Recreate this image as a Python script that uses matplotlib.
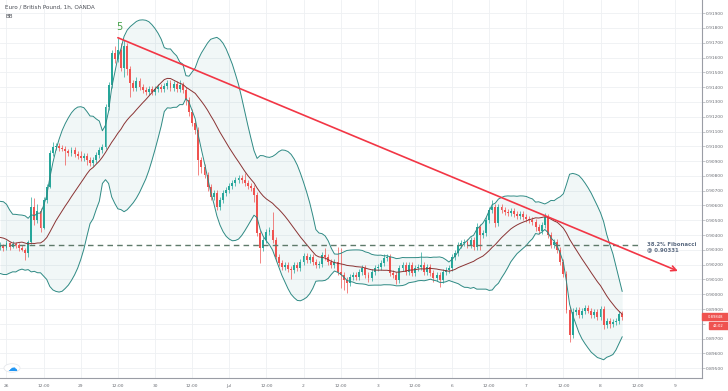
import matplotlib
matplotlib.use("Agg")
import matplotlib.pyplot as plt
import matplotlib.transforms as mtransforms
from matplotlib.patches import Rectangle, Circle
import numpy as np
import pandas as pd

# hourly EUR/GBP candles, hour 0 = Jun 26 00:00 (weekend hours skipped)
first_hour = -21
first_open = 0.9035
closes = [
  0.9040, 0.9052, 0.9060, 0.9055, 0.9035, 0.9022, 0.9025, 0.9040, 0.9048, 0.9050,
  0.9053, 0.9049, 0.9044, 0.9036, 0.9028, 0.9022, 0.9020, 0.9024, 0.9032, 0.90330,
  0.90310, 0.90345, 0.90320, 0.90340, 0.90335, 0.90310, 0.90300, 0.90280, 0.90350, 0.90590,
  0.90500, 0.90560, 0.90450, 0.90637, 0.90725, 0.90955, 0.90997, 0.91005, 0.90990, 0.90985,
  0.90965, 0.90955, 0.90975, 0.90950, 0.90935, 0.90920, 0.90935, 0.90905, 0.90890, 0.90910,
  0.90940, 0.90975, 0.90995, 0.91266, 0.91414, 0.91630, 0.91590, 0.91650, 0.91530, 0.91680,
  0.91520, 0.91430, 0.91394, 0.91440, 0.91400, 0.91380, 0.91365, 0.91385, 0.91370, 0.91385,
  0.91400, 0.91385, 0.91410, 0.91425, 0.91395, 0.91420, 0.91390, 0.91415, 0.91380, 0.91311,
  0.91234, 0.91160, 0.91110, 0.90908, 0.90860, 0.90806, 0.90725, 0.90657, 0.90684, 0.90590,
  0.90637, 0.90684, 0.90705, 0.90732, 0.90752, 0.90772, 0.90786, 0.90772, 0.90752, 0.90732,
  0.90718, 0.90671, 0.90414, 0.90313, 0.90367, 0.90421, 0.90434, 0.90367, 0.90252, 0.90211,
  0.90184, 0.90198, 0.90170, 0.90165, 0.90200, 0.90180, 0.90220, 0.90260, 0.90230, 0.90250,
  0.90220, 0.90200, 0.90205, 0.90265, 0.90250, 0.90220, 0.90198, 0.90218, 0.90151, 0.90130,
  0.90097, 0.90076, 0.90117, 0.90130, 0.90117, 0.90151, 0.90178, 0.90130, 0.90110, 0.90151,
  0.90178, 0.90184, 0.90211, 0.90245, 0.90252, 0.90144, 0.90130, 0.90097, 0.90178, 0.90198,
  0.90151, 0.90198, 0.90144, 0.90178, 0.90185, 0.90198, 0.90151, 0.90185, 0.90144, 0.90110,
  0.90130, 0.90097, 0.90151, 0.90164, 0.90178, 0.90252, 0.90279, 0.90333, 0.90347, 0.90354,
  0.90333, 0.90367, 0.90320, 0.90455, 0.90401, 0.90414, 0.90502, 0.90570, 0.90590, 0.90482,
  0.90590, 0.90570, 0.90556, 0.90549, 0.90563, 0.90542, 0.90529, 0.90542, 0.90522, 0.90508,
  0.90500, 0.90491, 0.90457, 0.90430, 0.90470, 0.90520, 0.90400, 0.90333, 0.90356, 0.90300,
  0.90220, 0.90140, 0.89894, 0.89725, 0.89880, 0.89894, 0.89860, 0.89885, 0.89907, 0.89890,
  0.89860, 0.89880, 0.89847, 0.89900, 0.89793, 0.89820, 0.89800, 0.89812, 0.89820, 0.89865, 0.89848,
]
# wick lengths above / below the body, in pips
wick_up = [
  2, 3, 2, 2, 2, 2, 2, 2, 2, 2,
  2, 2, 2, 2, 2, 2, 2, 2, 2, 2,
  1, 2, 1, 2, 1, 1, 2, 1, 2, 7,
  6, 5, 2, 2, 2, 2, 3, 2, 2, 2,
  2, 2, 2, 2, 2, 3, 2, 2, 2, 2,
  2, 2, 2, 2, 2, 2, 5, 8, 5, 4,
  2, 2, 2, 3, 2, 2, 2, 2, 2, 2,
  2, 2, 2, 2, 2, 2, 2, 3, 2, 2,
  2, 2, 2, 2, 2, 2, 2, 2, 2, 2,
  2, 2, 2, 2, 2, 2, 2, 2, 5, 2,
  2, 2, 2, 2, 2, 2, 2, 12, 2, 2,
  2, 2, 2, 2, 2, 2, 2, 2, 2, 2,
  2, 2, 2, 2, 5, 2, 2, 2, 10, 16,
  2, 2, 2, 2, 2, 2, 2, 2, 2, 2,
  2, 2, 2, 3, 2, 2, 2, 2, 2, 2,
  2, 2, 2, 2, 2, 9, 2, 2, 2, 2,
  2, 2, 2, 2, 2, 2, 2, 2, 2, 2,
  2, 2, 2, 3, 2, 2, 2, 2, 5, 2,
  2, 2, 2, 2, 2, 2, 2, 2, 2, 2,
  2, 2, 2, 2, 2, 3, 2, 2, 2, 2,
  2, 2, 2, 2, 3, 2, 2, 2, 2, 2,
  2, 2, 2, 2, 2, 2, 2, 2, 2, 2, 2,
]
wick_dn = [
  2, 2, 2, 2, 3, 2, 2, 2, 2, 2,
  2, 2, 2, 2, 2, 2, 2, 2, 2, 2,
  2, 1, 2, 1, 2, 2, 1, 5, 3, 1,
  3, 2, 3, 1, 2, 1, 2, 2, 2, 2,
  9, 2, 2, 2, 2, 2, 2, 3, 2, 2,
  2, 2, 2, 1, 2, 2, 3, 2, 2, 6,
  4, 10, 2, 2, 2, 2, 2, 2, 2, 2,
  2, 2, 2, 2, 2, 2, 2, 2, 2, 3,
  3, 2, 3, 10, 4, 2, 3, 2, 2, 2,
  2, 2, 2, 2, 2, 2, 2, 2, 2, 2,
  2, 5, 2, 10, 2, 2, 2, 2, 3, 2,
  2, 2, 2, 6, 2, 2, 2, 2, 2, 2,
  2, 2, 2, 2, 2, 2, 2, 2, 2, 9,
  7, 7, 2, 2, 2, 2, 2, 2, 3, 2,
  2, 2, 2, 2, 2, 2, 2, 3, 2, 2,
  2, 2, 2, 2, 2, 2, 2, 2, 2, 3,
  2, 5, 2, 2, 2, 2, 2, 2, 2, 2,
  2, 2, 2, 2, 10, 2, 2, 2, 2, 3,
  2, 2, 2, 2, 2, 2, 2, 2, 2, 2,
  2, 2, 3, 2, 2, 2, 2, 2, 2, 2,
  2, 2, 2, 5, 2, 2, 2, 2, 2, 2,
  2, 2, 2, 2, 3, 2, 3, 2, 2, 2, 2,
]

tick_hours = [0, 12, 24, 36, 48, 60, 72, 84, 96, 108, 120, 132, 144, 156, 168, 180, 192, 204, 216]
tick_labels = ["26", "12:00", "29", "12:00", "30", "12:00", "Jul", "12:00", "2", "12:00",
               "3", "12:00", "6", "12:00", "7", "12:00", "8", "12:00", "9"]
price_ticks = [0.895, 0.896, 0.897, 0.898, 0.899, 0.900, 0.901, 0.902, 0.903, 0.904, 0.905,
               0.906, 0.907, 0.908, 0.909, 0.910, 0.911, 0.912, 0.913, 0.914, 0.915, 0.916,
               0.917, 0.918, 0.919]
fib_level = 0.90331
fib_text = "38.2% Fibonacci\n@ 0.90331"
trend_start = (36.0, 0.91734)
trend_end = (217.0, 0.90157)
wave_label = "5"
last_price = 0.89848
countdown = "44:02"

GREEN = "#26a69a"
RED = "#ef5350"

fig = plt.figure(figsize=(7.28, 3.91), dpi=100)
ax = fig.add_axes([0, 13 / 391, 702 / 728, 378 / 391])
ax.set_xlim(-2.1, 224.8)
ax.set_ylim(0.89434, 0.91989)

c = np.array(closes)
o = np.r_[first_open, c[:-1]]
hrs = np.arange(first_hour, first_hour + len(c))
hi = np.maximum(o, c) + np.array(wick_up) * 1e-4
lo = np.minimum(o, c) - np.array(wick_dn) * 1e-4
cols = np.where(c >= o, GREEN, RED)

# bollinger bands 20, 2
s = pd.Series(c)
mid = s.rolling(20).mean()
sd = s.rolling(20).std(ddof=0)
upper = mid + 2 * sd
lower = mid - 2 * sd
ax.fill_between(hrs, lower, upper, color="#198787", alpha=0.06, lw=0, zorder=1)
ax.plot(hrs, upper, color="#2f8a84", lw=0.7, zorder=3)
ax.plot(hrs, lower, color="#2f8a84", lw=0.7, zorder=3)
ax.plot(hrs, mid, color="#8a3333", lw=0.7, zorder=3)

ax.vlines(hrs, lo, hi, colors=cols, lw=0.5, zorder=2)
body = np.maximum(np.abs(c - o), 0.00003)
ax.bar(hrs, body, bottom=np.minimum(o, c), width=0.62, color=cols, lw=0, zorder=2)

# fibonacci level and trend line
ax.plot([-2.1, 205], [fib_level, fib_level], color="#5e7a6a", lw=1.0,
        dashes=(4, 3), zorder=4)
ax.text(207, 0.90316, fib_text, color="#5d6c82", fontsize=3.9, fontweight="bold",
        va="center", ha="left", linespacing=1.05, zorder=5)
ax.annotate("", xy=trend_end, xytext=trend_start, zorder=5,
            arrowprops=dict(arrowstyle="->", color="#f23645", lw=1.2,
                            mutation_scale=9, shrinkA=0, shrinkB=0))
ax.text(36.6, 0.91806, wave_label, color="#43a047", fontsize=7, ha="center", va="center")

# axes styling
for side in ["top", "left"]:
  ax.spines[side].set_visible(False)
for side in ["right", "bottom"]:
  ax.spines[side].set_color("#9a9da5")
  ax.spines[side].set_linewidth(0.8)
ax.set_xticks(tick_hours)
ax.set_xticklabels(tick_labels)
ax.set_yticks(price_ticks)
# the scale label hidden behind the last-price boxes is left blank
ax.set_yticklabels(["" if abs(p - last_price) < 0.0005 else "%.5f" % p for p in price_ticks])
ax.yaxis.tick_right()
ax.tick_params(axis="y", length=2, width=0.4, color="#9a9da5", labelsize=3.2,
               labelcolor="#6b6e75", pad=1)
ax.tick_params(axis="x", length=0, labelsize=3.2, labelcolor="#6b6e75", pad=4)
ax.grid(color="#eef0f3", lw=0.6, zorder=0)
ax.set_axisbelow(True)

# last price labels on the price scale
bt = mtransforms.blended_transform_factory(ax.transAxes, ax.transData)
hpx = 0.001 / 14.8
ax.add_patch(Rectangle((1.0, last_price - 3.5 * hpx), 26 / 702, 7 * hpx, transform=bt,
                       color=RED, clip_on=False, zorder=6))
ax.text(1.0 + 13 / 702, last_price, "%.5f" % last_price, transform=bt, color="white",
        fontsize=2.7, ha="center", va="center", clip_on=False, zorder=7)
ax.add_patch(Rectangle((1.0 + 7 / 702, last_price - 12.5 * hpx), 19 / 702, 7 * hpx,
                       transform=bt, color=RED, clip_on=False, zorder=6))
ax.text(1.0 + 16.5 / 702, last_price - 9 * hpx, countdown, transform=bt, color="white",
        fontsize=2.7, ha="center", va="center", clip_on=False, zorder=7)

# header and logo
fig.text(5 / 728, 1 - 7 / 391, "Euro / British Pound, 1h, OANDA", fontsize=4.1,
         color="#4a4d55", va="center")
fig.text(5 / 728, 1 - 17 / 391, "BB", fontsize=4.1, color="#4a4d55", va="center")
fig.add_artist(Circle((12 / 728, 1 - 368 / 391), 0.011, transform=fig.transFigure,
                      facecolor="white", edgecolor="#e6e8ec", lw=0.6, zorder=8))
fig.text(12 / 728, 1 - 368 / 391, "\u2601", fontsize=7, color="#2196f3",
         ha="center", va="center", zorder=9)

fig.savefig("out.png", dpi=100)
